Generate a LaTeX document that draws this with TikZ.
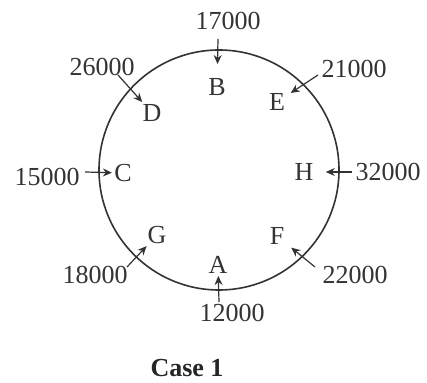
\documentclass[tikz,border=0pt]{standalone}
\usepackage{fontspec}
\setmainfont{Liberation Serif}
\usetikzlibrary{arrows.meta}

\begin{document}
\begin{tikzpicture}[
  x=0.5pt, y=-0.5pt,
  seat/.style={inner sep=1pt, text=black!80, font=\fontsize{13}{15}\selectfont},
  amount/.style={inner sep=1pt, text=black!80, font=\fontsize{13}{15}\selectfont},
  ring/.style={circle, draw=black!80, line width=0.8pt, minimum size=120pt, inner sep=0pt},
  pass/.style={-{Stealth[length=4.5pt, width=4pt]}, draw=black!80, line width=0.6pt}
]
\useasboundingbox (0,0) rectangle (427,383);

\node[ring] (table) at (219,170) {};

\node[seat] (B) at (217,87)  {B};
\node[seat] (D) at (152,113) {D};
\node[seat] (E) at (277,102) {E};
\node[seat] (C) at (123,173) {C};
\node[seat] (H) at (304,172) {H};
\node[seat] (G) at (157,235) {G};
\node[seat] (F) at (277,236) {F};
\node[seat] (A) at (218,265) {A};

\node[amount] (m17) at (228,21)  {17000};
\node[amount] (m26) at (102,67)  {26000};
\node[amount] (m21) at (354,69)  {21000};
\node[amount] (m15) at (47,177)  {15000};
\node[amount] (m32) at (388,172) {32000};
\node[amount] (m18) at (95,275)  {18000};
\node[amount] (m22) at (355,275) {22000};
\node[amount] (m12) at (232,313) {12000};

\coordinate (tB) at (218,39);
\coordinate (tD) at (118,75);
\coordinate (tE) at (318,75);
\coordinate (tC) at (85,172);
\coordinate (tH) at (352,172);
\coordinate (tG) at (127,267);
\coordinate (tF) at (315,267);
\coordinate (tA) at (219,302);

\draw[pass, shorten >=6pt] (tB) -- (B);
\draw[pass] (tD) -- (D);
\draw[pass, shorten >=2pt] (tE) -- (E);
\draw[pass] (tC) -- (C);
\draw[pass, shorten >=5pt] (tH) -- (H);
\draw[pass] (tG) -- (G);
\draw[pass, shorten >=3pt] (tF) -- (F);
\draw[pass] (tA) -- (A);

\node[font=\fontsize{13}{15}\selectfont\bfseries, text=black!85] (title) at (187,368) {Case 1};

\end{tikzpicture}
\end{document}
